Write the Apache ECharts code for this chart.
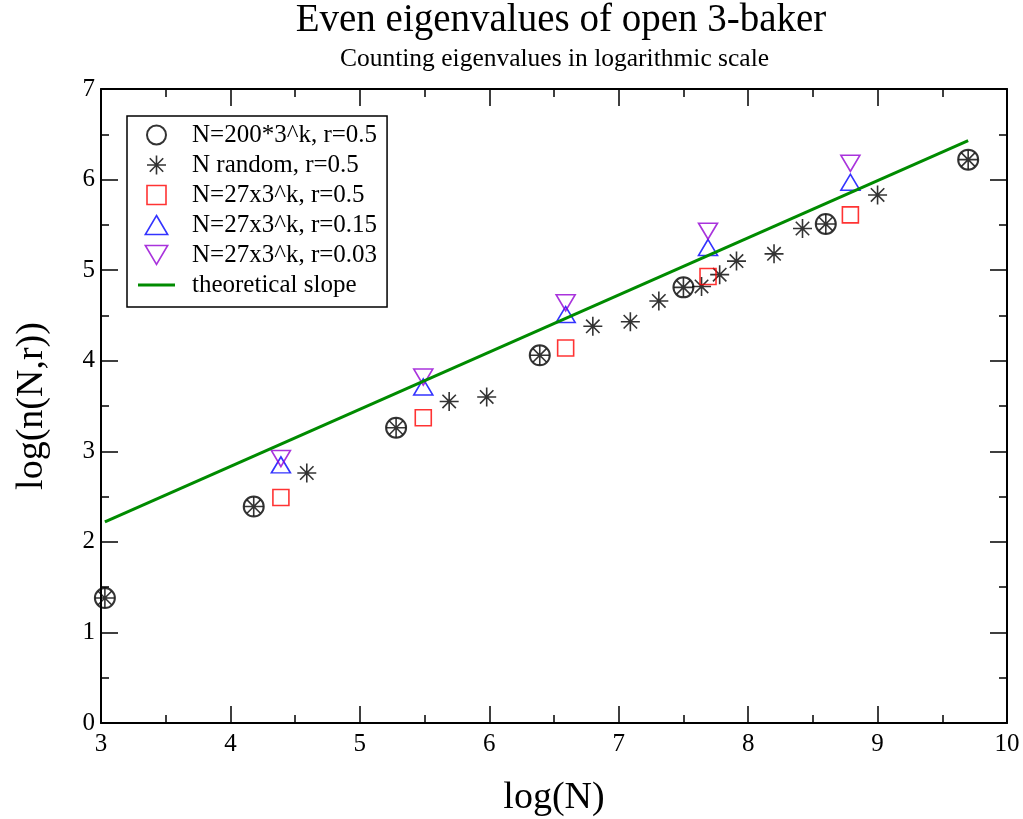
<!DOCTYPE html>
<html><head><meta charset="utf-8">
<script src="https://cdn.jsdelivr.net/npm/echarts@6/dist/echarts.min.js"></script>
<style>html,body{margin:0;padding:0;background:#fff}#c{width:1023px;height:819px}</style>
</head><body><div id="c"></div>
<script>
// ---- data ----
const titleText = 'Even eigenvalues of open 3-baker';
const subtitleText = 'Counting eigenvalues in logarithmic scale';
const xName = 'log(N)';
const yName = 'log(n(N,r))';
const seriesNames = ['N=200*3^k, r=0.5', 'N random, r=0.5', 'N=27x3^k, r=0.5', 'N=27x3^k, r=0.15', 'N=27x3^k, r=0.03', 'theoretical slope'];

const circleX = [3.03, 4.18, 5.28, 6.39, 7.50, 8.60, 9.70];
const circleY = [1.38, 2.39, 3.26, 4.06, 4.81, 5.51, 6.22];

const randomX = [3.03, 4.18, 4.59, 5.28, 5.69, 5.98, 6.39, 6.80, 7.09, 7.31, 7.50, 7.64, 7.78, 7.91, 8.20, 8.42, 8.60, 9.00, 9.70];
const randomY = [1.38, 2.39, 2.76, 3.26, 3.55, 3.60, 4.06, 4.38, 4.43, 4.66, 4.81, 4.82, 4.95, 5.10, 5.18, 5.46, 5.51, 5.83, 6.22];

const k27X = [4.39, 5.49, 6.59, 7.69, 8.79];
const r050Y = [2.49, 3.37, 4.14, 4.93, 5.61];
const r015Y = [2.85, 3.71, 4.51, 5.25, 5.97];
const r003Y = [2.92, 3.82, 4.64, 5.43, 6.18];

const slopeX = [3.03, 9.70];
const slopeY = [2.22, 6.43];

const xTicks = {min: 3, max: 10, interval: 1};
const yTicks = {min: 0, max: 7, interval: 1};

// ---- helpers ----
const zip = (xs, ys) => xs.map((x, i) => [x, ys[i]]);
const FONT = "'Liberation Serif','Times New Roman',serif";
const asteriskPath = 'path://M10,0L10,20M0,10L20,10M2.93,2.93L17.07,17.07M2.93,17.07L17.07,2.93';
const squarePath = 'path://M0,0L20,0L20,20L0,20Z';
const triUpPath = 'path://M10,0L20,17L0,17Z';
const triDownPath = 'path://M0,0L20,0L10,17Z';
const linePath = 'path://M0,0L37,0L37,3L0,3Z';

const colors = ['#000000', '#000000', '#ff0000', '#0000ff', '#9400d3', '#008b00'];

function axisCommon(extra) {
  return Object.assign({
    type: 'value',
    axisLine: {show: true, onZero: false, lineStyle: {color: '#000', width: 2}},
    axisTick: {show: true, inside: true, length: 17, lineStyle: {color: '#000', width: 1.5}},
    minorTick: {show: true, splitNumber: 2, length: 8, lineStyle: {color: '#000', width: 1.5}},
    splitLine: {show: false},
    minorSplitLine: {show: false}
  }, extra);
}

const hollow = (c, w) => ({color: 'rgba(0,0,0,0)', borderColor: c, borderWidth: w});

const chart = echarts.init(document.getElementById('c'), null, {renderer: 'canvas'});
chart.setOption({
  backgroundColor: '#fff',
  animation: false,
  graphic: [
    {type: 'text', x: 561, y: 21, style: {text: titleText, font: '39px ' + FONT, fill: '#000', align: 'center', verticalAlign: 'middle'}},
    {type: 'text', x: 554.5, y: 59, style: {text: subtitleText, font: '25.5px ' + FONT, fill: '#000', align: 'center', verticalAlign: 'middle'}}
  ],
  grid: {left: 101, right: 16, top: 89, bottom: 96, containLabel: false, outerBoundsMode: 'none'},
  xAxis: [
    axisCommon(Object.assign({}, xTicks, {position: 'bottom',
      axisLabel: {color: '#000', fontSize: 25, fontFamily: FONT, margin: 9},
      name: xName, nameLocation: 'middle', nameGap: 56,
      nameTextStyle: {color: '#000', fontSize: 38, fontFamily: FONT}})),
    axisCommon(Object.assign({}, xTicks, {position: 'top', axisLabel: {show: false}}))
  ],
  yAxis: [
    axisCommon(Object.assign({}, yTicks, {position: 'left',
      axisLabel: {color: '#000', fontSize: 25, fontFamily: FONT, margin: 6},
      name: yName, nameLocation: 'middle', nameGap: 50,
      nameTextStyle: {color: '#000', fontSize: 38, fontFamily: FONT}})),
    axisCommon(Object.assign({}, yTicks, {position: 'right', axisLabel: {show: false}}))
  ],
  legend: {
    orient: 'vertical', left: 127, top: 116,
    padding: [6.5, 10, 9.5, 11],
    borderColor: '#000', borderWidth: 1.5, backgroundColor: '#fff',
    itemWidth: 37, itemHeight: 19, itemGap: 5,
    symbolKeepAspect: true,
    textStyle: {color: '#000', fontSize: 25, fontFamily: FONT, lineHeight: 25, padding: [0, 0, 0, 12]},
    data: [
      {name: seriesNames[0], icon: 'circle', itemStyle: hollow(colors[0], 2)},
      {name: seriesNames[1], icon: asteriskPath, itemStyle: hollow(colors[1], 1.6)},
      {name: seriesNames[2], icon: squarePath, itemStyle: hollow(colors[2], 1.6)},
      {name: seriesNames[3], icon: triUpPath, itemStyle: hollow(colors[3], 1.6)},
      {name: seriesNames[4], icon: triDownPath, itemStyle: hollow(colors[4], 1.6)},
      {name: seriesNames[5], icon: linePath, itemStyle: {color: colors[5], borderWidth: 0}}
    ],
    selectedMode: false
  },
  series: [
    {name: seriesNames[0], type: 'scatter', data: zip(circleX, circleY), symbol: 'circle', symbolSize: 20,
      itemStyle: hollow(colors[0], 2)},
    {name: seriesNames[1], type: 'scatter', data: zip(randomX, randomY), symbol: asteriskPath, symbolSize: 19, symbolKeepAspect: true,
      itemStyle: hollow(colors[1], 1.6)},
    {name: seriesNames[2], type: 'scatter', data: zip(k27X, r050Y), symbol: squarePath, symbolSize: 16,
      itemStyle: hollow(colors[2], 1.6)},
    {name: seriesNames[3], type: 'scatter', data: zip(k27X, r015Y), symbol: triUpPath, symbolSize: [19, 16],
      itemStyle: hollow(colors[3], 1.6)},
    {name: seriesNames[4], type: 'scatter', data: zip(k27X, r003Y), symbol: triDownPath, symbolSize: [19, 16],
      itemStyle: hollow(colors[4], 1.6)},
    {name: seriesNames[5], type: 'line', data: zip(slopeX, slopeY), symbol: 'none', showSymbol: false,
      lineStyle: {color: colors[5], width: 3}, itemStyle: {color: colors[5]}}
  ]
});
</script>
</body></html>
